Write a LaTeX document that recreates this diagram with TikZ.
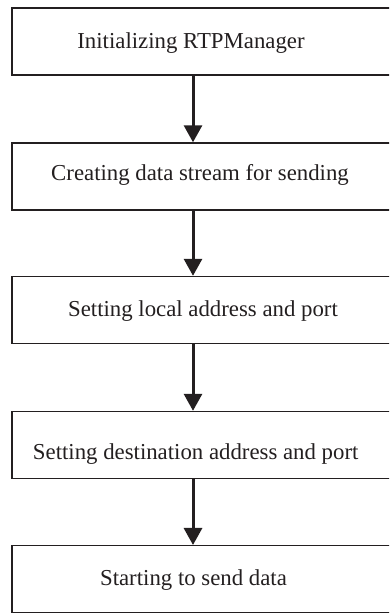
\documentclass[tikz,border=0pt]{standalone}
\usepackage{fontspec}
\setmainfont{Liberation Serif}
\usetikzlibrary{arrows.meta}
\definecolor{ink}{HTML}{231F20}
\tikzset{
  stepbox/.style={draw=ink, line width=1.4pt, rectangle, minimum width=388pt, minimum height=67pt, inner sep=0pt, fill=none},
  steptext/.style={text=ink, font=\fontsize{22.8pt}{26pt}\selectfont, inner sep=0pt, anchor=center},
  flow/.style={draw=ink, line width=3pt, -{Triangle[width=18pt,length=17pt]}}
}
\begin{document}
\begin{tikzpicture}[x=1pt,y=1pt]
\useasboundingbox (0,0) rectangle (389,613);
\clip (0,0) rectangle (389,613);
% boxes (y measured from top: top/bottom pairs)
\node[stepbox] (b1) at (206,{613-41.6}) {};
\node[stepbox] (b2) at (206,{613-176.5}) {};
\node[stepbox] (b3) at (206,{613-310}) {};
\node[stepbox] (b4) at (206,{613-445}) {};
\node[stepbox] (b5) at (206,{613-579.2}) {};
% texts
\node[steptext] (t1) at (191,{613-43}) {Initializing RTPManager};
\node[steptext] (t2) at (200,{613-175}) {Creating data stream for sending};
\node[steptext] (t3) at (203,{613-311}) {Setting local address and port};
\node[steptext] (t4) at (195.7,{613-454}) {Setting destination address and port};
\node[steptext] (t5) at (193.5,{613-580}) {Starting to send data};
% arrows
\coordinate (a1s) at (193,{613-75});
\coordinate (a1e) at (193,{613-143});
\coordinate (a2s) at (193,{613-210});
\coordinate (a2e) at (193,{613-276.7});
\coordinate (a3s) at (193,{613-343.3});
\coordinate (a3e) at (193,{613-411.7});
\coordinate (a4s) at (193,{613-478.3});
\coordinate (a4e) at (193,{613-546.7});
\draw[flow] (b1.south -| a1s) -- (b2.north -| a1e);
\draw[flow] (b2.south -| a2s) -- (b3.north -| a2e);
\draw[flow] (b3.south -| a3s) -- (b4.north -| a3e);
\draw[flow] (b4.south -| a4s) -- (b5.north -| a4e);
\end{tikzpicture}
\end{document}
